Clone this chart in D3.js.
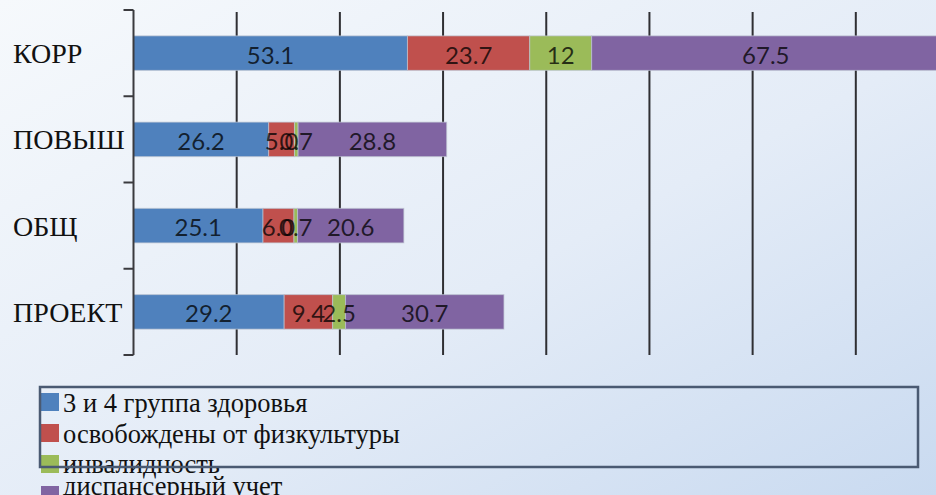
<!DOCTYPE html>
<html>
<head>
<meta charset="utf-8">
<script src="https://cdn.jsdelivr.net/npm/d3@7/dist/d3.min.js"></script>
<style>
  html, body { margin: 0; padding: 0; overflow: hidden; }
  svg { display: block; }
  .serif { font-family: "Liberation Serif", "DejaVu Serif", "Times New Roman", serif; }
  .num { font-family: Lato, "Open Sans", sans-serif; }
</style>
</head>
<body>
<svg id="chart" width="936" height="495"></svg>
<script>
// Categories (top to bottom) and stacked series
const categories = ["КОРР", "ПОВЫШ", "ОБЩ", "ПРОЕКТ"];
const seriesNames = [
  "3 и 4 группа здоровья",
  "освобождены от физкультуры",
  "инвалидность",
  "диспансерный учет"
];
const group34     = [53.1, 26.2, 25.1, 29.2];
const exemptPE    = [23.7, 5.0, 6.0, 9.4];
const disability  = [12, 0.7, 0.7, 2.5];
const dispensary  = [67.5, 28.8, 20.6, 30.7];
const xTicks      = [20, 40, 60, 80, 100, 120, 140, 160];

const colors = ["#4F81BD", "#C0504D", "#9BBB59", "#8064A2"];
const seriesValues = [group34, exemptPE, disability, dispensary];

// small values keep one decimal, larger ones print as-is
const fmtValue = v => (v < 10 ? v.toFixed(1) : String(v));

const rows = categories.map((c, i) => {
  const r = { cat: c };
  seriesNames.forEach((s, k) => { r[s] = seriesValues[k][i]; });
  return r;
});

const svg = d3.select("#chart");
const W = 936, H = 495;

// background wash
const defs = svg.append("defs");
const grad = defs.append("linearGradient")
  .attr("id", "bg").attr("x1", "0").attr("y1", "0").attr("x2", "1").attr("y2", "1");
grad.append("stop").attr("offset", "0%").attr("stop-color", "#f6f9fc");
grad.append("stop").attr("offset", "55%").attr("stop-color", "#e4ecf7");
grad.append("stop").attr("offset", "100%").attr("stop-color", "#c9daf0");
svg.append("rect").attr("width", W).attr("height", H).attr("fill", "url(#bg)");

const plotTop = 10, plotBottom = 355;
const x = d3.scaleLinear().domain([0, 160]).range([133.5, 959]);
const y = d3.scaleBand().domain(categories).range([plotTop, plotBottom])
  .paddingInner(0.6).paddingOuter(0.3);

// vertical gridlines
svg.append("g").selectAll("line").data(xTicks).join("line")
  .attr("x1", d => x(d)).attr("x2", d => x(d))
  .attr("y1", 12).attr("y2", plotBottom)
  .attr("stroke", "#2f2f33").attr("stroke-width", 2);

// stacked bars
const stack = d3.stack().keys(seriesNames);
const layers = stack(rows);

const g = svg.append("g");
layers.forEach((layer, k) => {
  g.append("g").selectAll("rect").data(layer).join("rect")
    .attr("x", d => x(d[0]))
    .attr("y", d => y(d.data.cat))
    .attr("width", d => x(d[1]) - x(d[0]))
    .attr("height", y.bandwidth())
    .attr("fill", colors[k])
    .attr("stroke", "rgba(190,196,210,0.7)")
    .attr("stroke-width", 1);
});

// value labels centred in each segment
layers.forEach((layer, k) => {
  g.append("g").selectAll("text").data(layer).join("text")
    .attr("class", "num")
    .attr("x", d => (x(d[0]) + x(d[1])) / 2)
    .attr("y", d => y(d.data.cat) + y.bandwidth() / 2 + 1)
    .attr("text-anchor", "middle")
    .attr("dominant-baseline", "central")
    .attr("font-size", 24)
    .attr("fill", "#000")
    .attr("fill-opacity", 0.75)
    .text(d => fmtValue(d.data[layer.key]));
});

// category axis: spine with ticks on band boundaries
const step = y.step();
const bounds = d3.range(categories.length + 1).map(i => plotTop + i * step);
const axis = svg.append("g").attr("stroke", "#3a3a3e").attr("stroke-width", 2);
axis.append("line")
  .attr("x1", x(0)).attr("x2", x(0))
  .attr("y1", plotTop).attr("y2", plotBottom);
axis.selectAll("line.tick").data(bounds).join("line").attr("class", "tick")
  .attr("x1", x(0) - 10).attr("x2", x(0))
  .attr("y1", d => d).attr("y2", d => d);

svg.append("g").selectAll("text").data(categories).join("text")
  .attr("class", "serif")
  .attr("x", 13)
  .attr("y", d => y(d) + y.bandwidth() / 2 + 10)
  .attr("font-size", 28)
  .attr("fill", "#111")
  .text(d => d);

// legend
const legendBaselines = [412, 443, 473, 495];
const lg = svg.append("g");
seriesNames.forEach((s, i) => {
  lg.append("rect")
    .attr("x", 41).attr("y", 393 + i * 31)
    .attr("width", 18).attr("height", 18)
    .attr("fill", colors[i]);
  lg.append("text")
    .attr("class", "serif")
    .attr("x", 63).attr("y", legendBaselines[i])
    .attr("font-size", 26.5)
    .attr("fill", "#111")
    .text(s);
});
lg.append("rect")
  .attr("x", 40).attr("y", 387).attr("width", 878).attr("height", 80)
  .attr("fill", "none").attr("stroke", "#4a5a72").attr("stroke-width", 2.5);
</script>
</body>
</html>
